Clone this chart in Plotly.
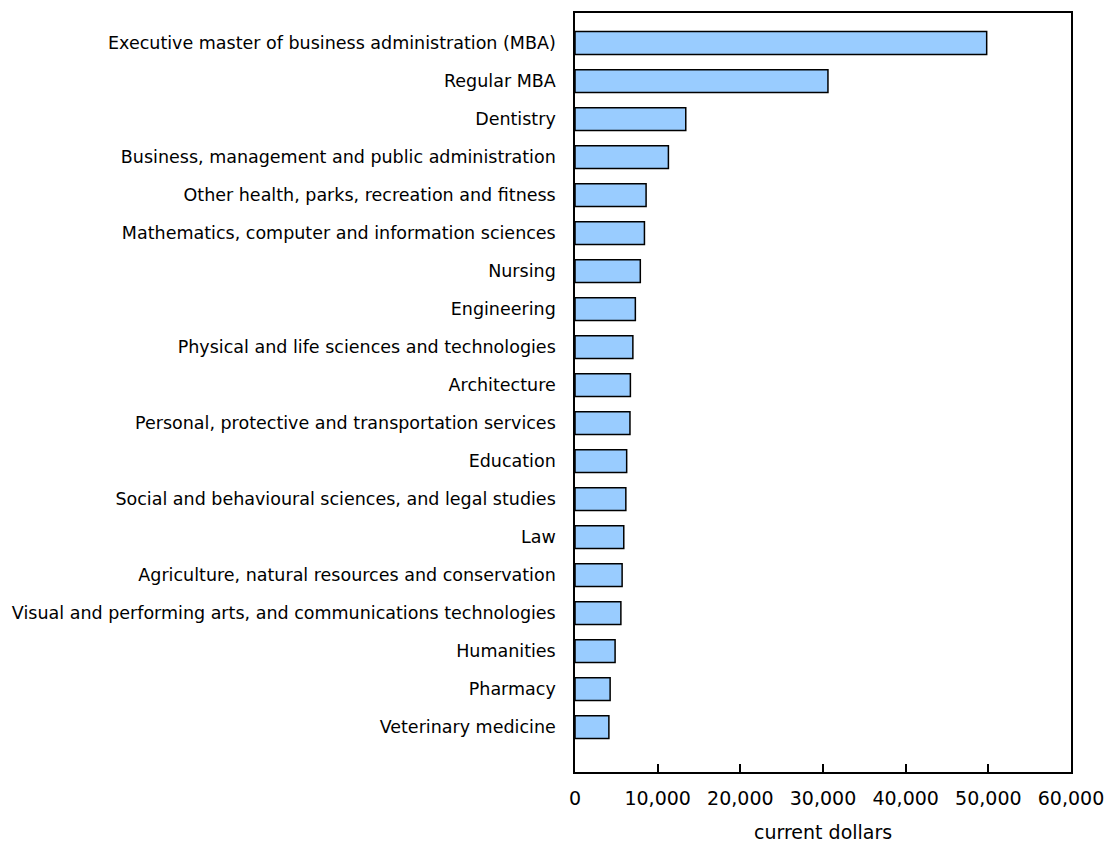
import plotly.graph_objects as go

categories = [
    "Executive master of business administration (MBA)",
    "Regular MBA",
    "Dentistry",
    "Business, management and public administration",
    "Other health, parks, recreation and fitness",
    "Mathematics, computer and information sciences",
    "Nursing",
    "Engineering",
    "Physical and life sciences and technologies",
    "Architecture",
    "Personal, protective and transportation services",
    "Education",
    "Social and behavioural sciences, and legal studies",
    "Law",
    "Agriculture, natural resources and conservation",
    "Visual and performing arts, and communications technologies",
    "Humanities",
    "Pharmacy",
    "Veterinary medicine",
]
values = [49800, 30600, 13400, 11300, 8600, 8400, 7900, 7300, 7000,
          6700, 6650, 6250, 6150, 5900, 5700, 5550, 4850, 4250, 4100]

tick_vals = [0, 10000, 20000, 30000, 40000, 50000, 60000]
tick_text = ["0", "10,000", "20,000", "30,000", "40,000", "50,000", "60,000"]
x_title = "current dollars"

fig = go.Figure(go.Bar(
    x=values, y=categories, orientation="h", width=0.6,
    marker=dict(color="#99CCFF", line=dict(color="black", width=1.5)),
))

font = "DejaVu Sans, Verdana, sans-serif"
fig.update_layout(
    width=1106, height=844,
    margin=dict(l=575, r=35, t=13, b=72, autoexpand=False),
    plot_bgcolor="white", paper_bgcolor="white",
    showlegend=False,
    font=dict(family=font, color="black"),
    xaxis=dict(
        range=[0, 60000], tickvals=tick_vals, ticktext=tick_text,
        ticks="inside", ticklen=8, tickwidth=1.5, tickcolor="black",
        showline=True, linecolor="black", linewidth=1.5, mirror=True,
        showgrid=False, zeroline=False,
        tickfont=dict(size=19, family=font), ticklabelstandoff=8,
        ticklabeloverflow="allow",
    ),
    yaxis=dict(
        categoryorder="array", categoryarray=categories,
        range=[19.18, -0.79],
        showline=True, linecolor="black", linewidth=1.5, mirror=True,
        showgrid=False, ticks="", tickfont=dict(size=17.5, family=font),
        ticklabelstandoff=14,
    ),
    annotations=[dict(
        text=x_title, xref="paper", yref="paper", x=0.5, y=0,
        yshift=-60, showarrow=False, xanchor="center", yanchor="middle",
        font=dict(size=19, family=font),
    )],
)
fig.write_html(
    "out.html",
    config={"displayModeBar": False},
    post_script="document.body.style.margin='0';document.body.style.overflow='hidden';",
)
